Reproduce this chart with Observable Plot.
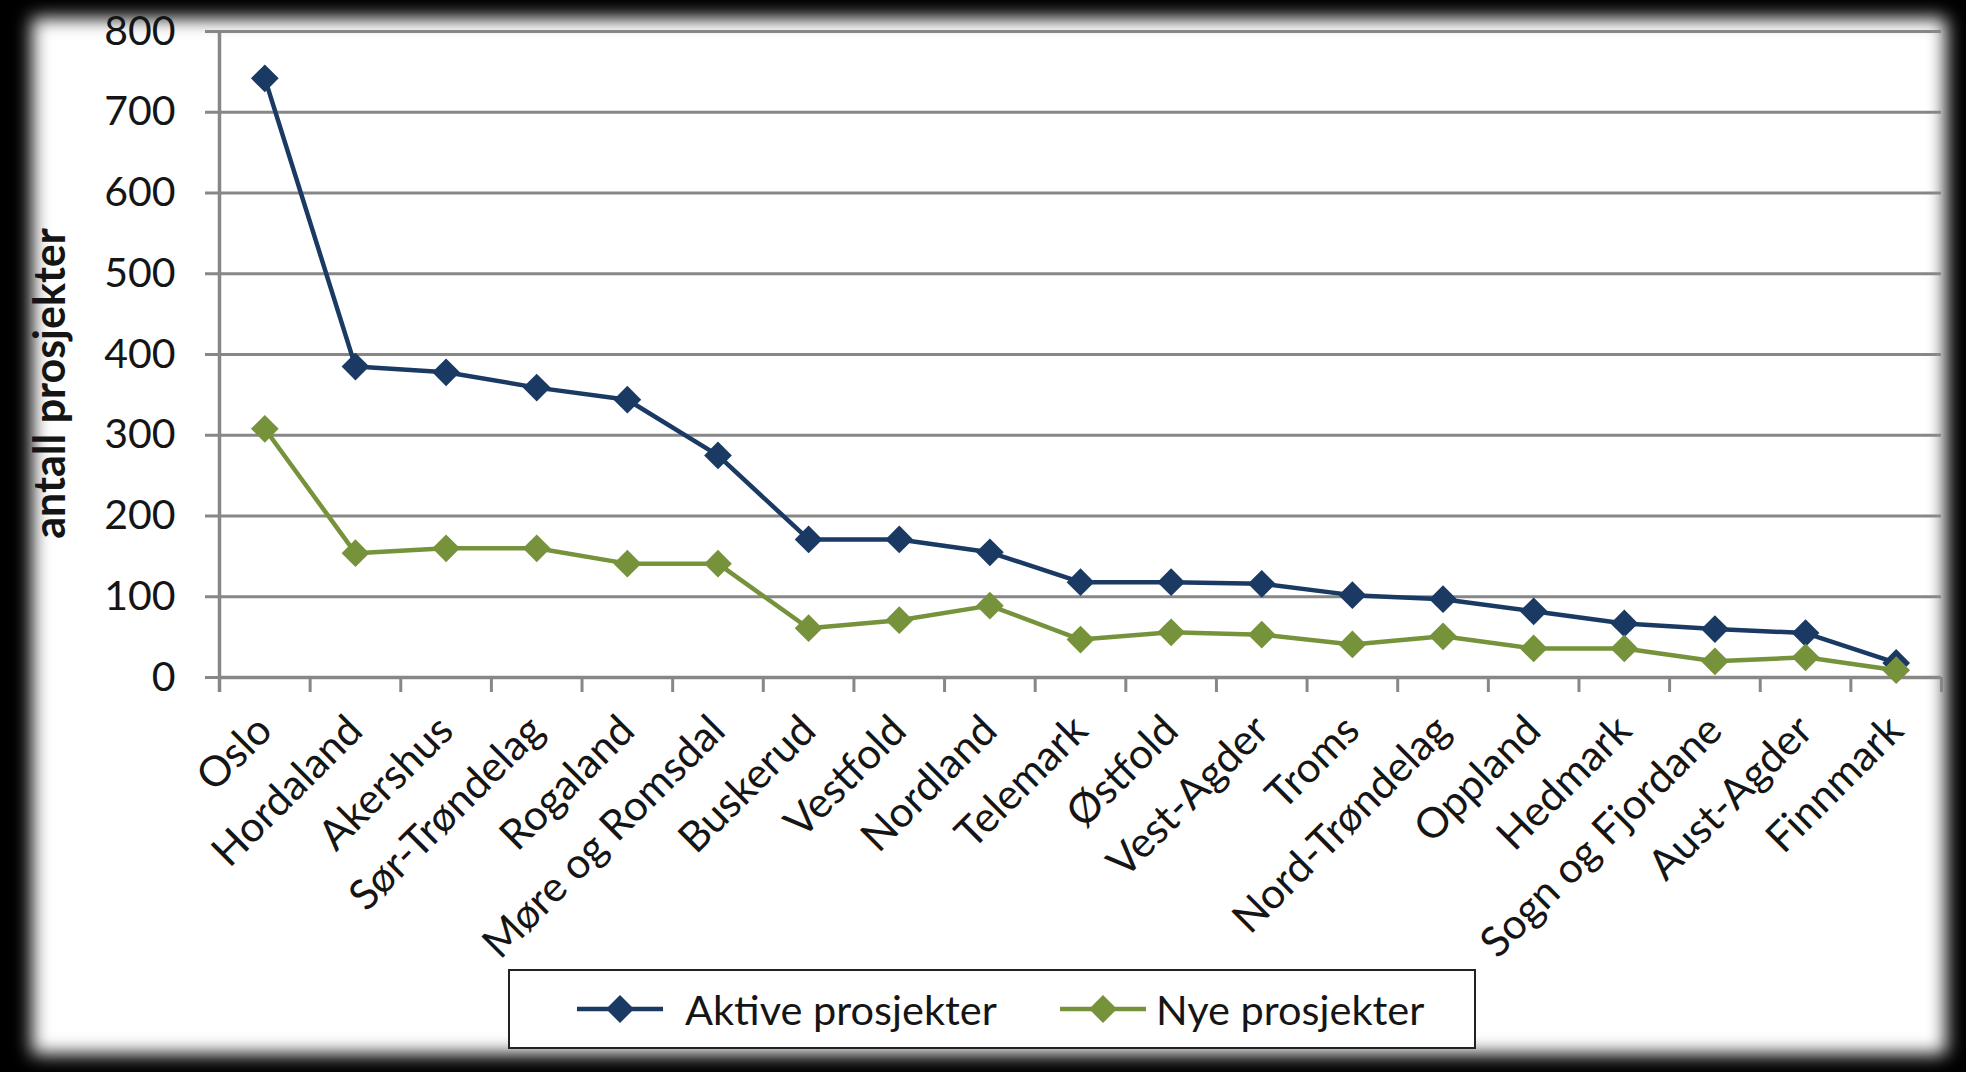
<!DOCTYPE html>
<html><head><meta charset="utf-8">
<script src="https://cdn.jsdelivr.net/npm/d3@7"></script>
<script src="https://cdn.jsdelivr.net/npm/@observablehq/plot@0.6"></script>
<style>
html,body{margin:0;padding:0;background:#000;width:1966px;height:1072px;overflow:hidden;}
#panel{position:absolute;left:32px;top:18px;width:1914px;height:1036px;background:#fff;filter:blur(9px);}
#chart{position:absolute;left:0;top:0;}
#legend{position:absolute;left:508px;top:969px;width:968px;height:80px;border:2px solid #222;background:#fff;box-sizing:border-box;font-family:Lato,"Open Sans",sans-serif;font-size:41.5px;color:#151515;}
#legend .item{position:absolute;top:0;height:76px;display:flex;align-items:center;}
</style></head>
<body>
<div id="panel"></div>
<div id="chart"></div>
<div id="legend"></div>
<script>
const regions = ["Oslo","Hordaland","Akershus","Sør-Trøndelag","Rogaland","Møre og Romsdal","Buskerud","Vestfold","Nordland","Telemark","Østfold","Vest-Agder","Troms","Nord-Trøndelag","Oppland","Hedmark","Sogn og Fjordane","Aust-Agder","Finnmark"];
const aktive = [742, 385, 378, 359, 344, 275, 171, 171, 155, 118, 118, 116, 102, 97, 82, 67, 60, 55, 18];
const nye = [308, 154, 160, 160, 141, 141, 61, 71, 89, 47, 56, 53, 41, 51, 36, 36, 20, 25, 9];
const yTicks = [0, 100, 200, 300, 400, 500, 600, 700, 800];
const seriesNames = ["Aktive prosjekter", "Nye prosjekter"];
const seriesColors = ["#1a3a63", "#76933c"];
const yLabel = "antall prosjekter";

const data = regions.flatMap((r, i) => [
  {region: r, series: seriesNames[0], value: aktive[i]},
  {region: r, series: seriesNames[1], value: nye[i]}
]);

const W = 1966, H = 1000, mL = 219, mR = 25, mT = 31, mB = H - 677;
const step = (W - mL - mR) / regions.length;
const gray = "#878787";
const font = "Lato, 'Open Sans', sans-serif";

const marks = [
  Plot.gridY(yTicks, {stroke: gray, strokeOpacity: 1, strokeWidth: 3}),
  Plot.axisY({ticks: yTicks, tickSize: 14, tickPadding: 30, stroke: gray, strokeWidth: 3, fontSize: 41, label: null, fill: "#151515"}),
  Plot.ruleX([regions[0]], {dx: -step / 2, stroke: gray, strokeWidth: 3.5, insetBottom: -15}),
  Plot.ruleX(regions, {dx: -step / 2, y1: 0, y2: 0, insetBottom: -15, stroke: gray, strokeWidth: 3}),
  Plot.ruleX([regions[regions.length - 1]], {dx: step / 2, y1: 0, y2: 0, insetBottom: -15, stroke: gray, strokeWidth: 3}),
  Plot.ruleY([0], {stroke: gray, strokeWidth: 3.5}),
  Plot.axisX({tickRotate: -45, tickSize: 0, tickPadding: 46, fontSize: 42, label: null, fill: "#151515"}),
  Plot.text([yLabel], {frameAnchor: "left", textAnchor: "middle", rotate: -90, dx: -168, dy: 29, fontWeight: "bold", fontSize: 43, fill: "#151515"})
];
seriesNames.forEach((s, k) => {
  const d = data.filter(e => e.series === s);
  marks.push(Plot.line(d, {x: "region", y: "value", stroke: "series", strokeWidth: 4.5}));
  marks.push(Plot.dot(d, {x: "region", y: "value", fill: "series", symbol: "diamond2", r: 12.5, stroke: "none"}));
});

const chart = Plot.plot({
  width: W, height: H,
  marginLeft: mL, marginRight: mR, marginTop: mT, marginBottom: mB,
  style: {fontFamily: font, background: "transparent", overflow: "visible"},
  x: {type: "point", domain: regions, padding: 0.5, round: false, label: null},
  y: {domain: [0, 800], label: null},
  color: {domain: seriesNames, range: seriesColors},
  marks
});
document.getElementById("chart").appendChild(chart);

// legend
const leg = document.getElementById("legend");
const pos = [[67, 175], [550, 646]];
seriesNames.forEach((s, k) => {
  const sw = document.createElement("div");
  sw.className = "item";
  sw.style.left = pos[k][0] + "px";
  sw.innerHTML = `<svg width="86" height="30"><line x1="0" y1="15" x2="86" y2="15" stroke="${seriesColors[k]}" stroke-width="4.5"/><path d="M43,1 L57,15 L43,29 L29,15 Z" fill="${seriesColors[k]}"/></svg>`;
  leg.appendChild(sw);
  const t = document.createElement("div");
  t.className = "item";
  t.style.left = pos[k][1] + "px";
  t.textContent = s;
  leg.appendChild(t);
});
</script>
</body></html>
